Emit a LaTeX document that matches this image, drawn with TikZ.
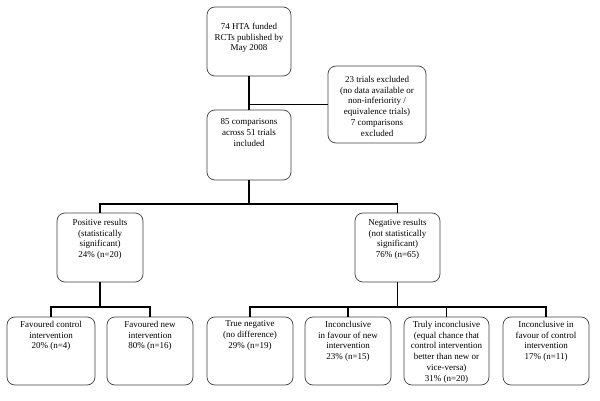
\documentclass[tikz,border=0pt]{standalone}
\usepackage{fontspec}
\setmainfont{Liberation Serif}
\tikzset{
  boxst/.style={draw=black!75, line width=0.7pt, rounded corners=8pt, inner sep=0pt, outer sep=0pt, anchor=north west},
  conn/.style={draw=black, line width=1.7pt},
}
\newcommand\mkbox[7]{%
  \node[boxst] (#1) at (#2,#3) {\parbox[c][\dimexpr #5pt-#3pt\relax][t]{\dimexpr #4pt-#2pt\relax}{\centering\fontsize{9}{10.8}\selectfont\vspace*{#6pt}#7\par}};}
\begin{document}
\begin{tikzpicture}[x=1pt,y=-1pt]
\useasboundingbox (0,0) rectangle (600,401);
\mkbox{top}{207}{7}{291}{76}{16}{74 HTA funded\\RCTs published by\\May 2008}
\mkbox{ex}{328}{66}{426}{143}{10}{23 trials excluded\\(no data available or\\non-inferiority /\\equivalence trials)\\7 comparisons\\excluded}
\mkbox{mid}{207}{110}{291}{180}{9}{85 comparisons\\across 51 trials\\included}
\mkbox{pos}{57}{213}{143}{282}{6}{Positive results\\(statistically\\significant)\\24\% (n=20)}
\mkbox{neg}{355}{213}{440}{282}{6}{Negative results\\(not statistically\\significant)\\76\% (n=65)}
\mkbox{b1}{7}{317}{95}{385}{4}{Favoured control\\intervention\\20\% (n=4)}
\mkbox{b2}{107}{317}{193}{385}{4}{Favoured new\\intervention\\80\% (n=16)}
\mkbox{b3}{207}{317}{293}{385}{4}{True negative\\(no difference)\\29\% (n=19)}
\mkbox{b4}{305}{317}{391}{385}{4}{Inconclusive\\in favour of new\\intervention\\23\% (n=15)}
\mkbox{b5}{404}{317}{489}{385}{4}{Truly inconclusive\\(equal chance that\\control intervention\\better than new or\\vice-versa)\\31\% (n=20)}
\mkbox{b6}{503}{317}{589}{385}{4}{Inconclusive in\\favour of control\\intervention\\17\% (n=11)}
% connectors
\coordinate (j0) at (249,95);
\coordinate (j1) at (249,204);
\coordinate (j2) at (100,307);
\coordinate (j3) at (397.5,307);
\draw[conn] (top.south) -- (mid.north);
\draw[conn] (top.south |- ex.west) -- (ex.west);
\draw[conn] (mid.south) -- (mid.south |- j1);
\draw[conn] (pos.north) -- (pos.north |- j1) -- (neg.north |- j1) -- (neg.north);
\draw[conn] (pos.south) -- (pos.south |- j2);
\draw[conn] (b1.north) -- (b1.north |- j2) -- (b2.north |- j2) -- (b2.north);
\draw[conn] (neg.south) -- (neg.south |- j3);
\draw[conn] (b3.north) -- (b3.north |- j3) -- (b6.north |- j3) -- (b6.north);
\draw[conn] (b4.north) -- (b4.north |- j3);
\draw[conn] (b5.north) -- (b5.north |- j3);
\end{tikzpicture}
\end{document}
